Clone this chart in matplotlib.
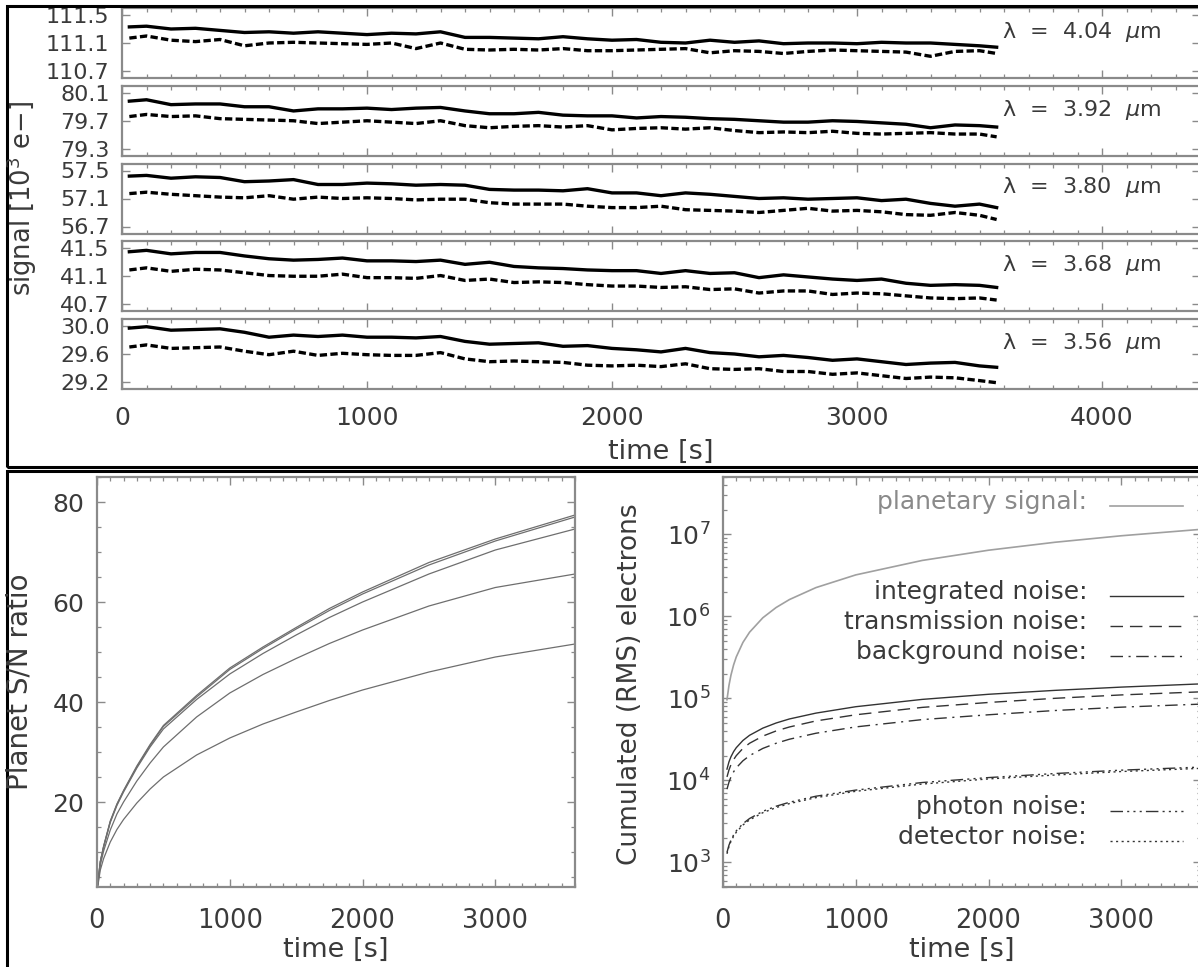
import numpy as np
import matplotlib
matplotlib.use("Agg")
import matplotlib.pyplot as plt
from matplotlib.lines import Line2D
from matplotlib.patches import Rectangle
from matplotlib.ticker import MultipleLocator, LogLocator, NullFormatter

# ---------------- data ----------------
# top: light curves (time in s) at five wavelengths, solid and dashed series
time_lc = [30, 100, 200, 300, 400, 500, 600, 700, 800, 900, 1000, 1100, 1200,
           1300, 1400, 1500, 1600, 1700, 1800, 1900, 2000, 2100, 2200, 2300,
           2400, 2500, 2600, 2700, 2800, 2900, 3000, 3100, 3200, 3300, 3400,
           3500, 3570]
wavelength_labels = ["4.04", "3.92", "3.80", "3.68", "3.56"]
ytick_values = [[111.5, 111.1, 110.7], [80.1, 79.7, 79.3], [57.5, 57.1, 56.7],
                [41.5, 41.1, 40.7], [30.0, 29.6, 29.2]]
ytick_labels = [["111.5", "111.1", "110.7"], ["80.1", "79.7", "79.3"],
                ["57.5", "57.1", "56.7"], ["41.5", "41.1", "40.7"],
                ["30.0", "29.6", "29.2"]]

lc404_solid = [111.33, 111.34, 111.30, 111.31, 111.28, 111.25, 111.26, 111.24, 111.26,
               111.24, 111.22, 111.24, 111.23, 111.26, 111.18, 111.18, 111.17, 111.16,
               111.19, 111.16, 111.14, 111.15, 111.11, 111.10, 111.14, 111.11, 111.13,
               111.09, 111.10, 111.10, 111.09, 111.11, 111.10, 111.10, 111.08, 111.06,
               111.04]
lc404_dashed = [111.17, 111.20, 111.14, 111.12, 111.15, 111.06, 111.10, 111.11, 111.10,
                111.09, 111.08, 111.10, 111.02, 111.10, 111.01, 111.00, 111.01, 111.00,
                111.02, 110.99, 110.99, 111.00, 111.01, 111.02, 110.96, 110.99, 110.98,
                110.95, 110.98, 111.00, 110.99, 110.98, 110.97, 110.91, 110.98, 110.99,
                110.95]
lc392_solid = [79.98, 80.00, 79.93, 79.94, 79.94, 79.90, 79.90, 79.84, 79.87, 79.87,
               79.88, 79.86, 79.88, 79.89, 79.84, 79.80, 79.80, 79.82, 79.78, 79.77,
               79.77, 79.74, 79.76, 79.75, 79.73, 79.72, 79.70, 79.68, 79.68, 79.70,
               79.69, 79.67, 79.65, 79.60, 79.64, 79.63, 79.61]
lc392_dashed = [79.76, 79.79, 79.76, 79.77, 79.73, 79.72, 79.71, 79.70, 79.66, 79.68,
                79.70, 79.68, 79.66, 79.70, 79.63, 79.60, 79.62, 79.63, 79.61, 79.63,
                79.57, 79.59, 79.60, 79.58, 79.60, 79.56, 79.53, 79.54, 79.53, 79.55,
                79.52, 79.51, 79.52, 79.53, 79.51, 79.51, 79.47]
lc380_solid = [57.42, 57.43, 57.39, 57.41, 57.40, 57.34, 57.35, 57.37, 57.30, 57.30,
               57.32, 57.31, 57.29, 57.30, 57.29, 57.23, 57.22, 57.22, 57.21, 57.24,
               57.18, 57.18, 57.14, 57.18, 57.16, 57.13, 57.10, 57.11, 57.09, 57.10,
               57.11, 57.07, 57.09, 57.03, 56.99, 57.02, 56.97]
lc380_dashed = [57.17, 57.19, 57.16, 57.14, 57.12, 57.11, 57.14, 57.09, 57.12, 57.10,
                57.11, 57.10, 57.08, 57.09, 57.09, 57.04, 57.02, 57.02, 57.02, 56.99,
                56.97, 56.97, 56.99, 56.94, 56.93, 56.92, 56.90, 56.93, 56.96, 56.92,
                56.93, 56.91, 56.87, 56.86, 56.90, 56.86, 56.80]
lc368_solid = [41.45, 41.47, 41.42, 41.44, 41.44, 41.39, 41.35, 41.33, 41.34, 41.36,
               41.32, 41.32, 41.31, 41.33, 41.27, 41.30, 41.24, 41.22, 41.21, 41.19,
               41.18, 41.18, 41.14, 41.18, 41.14, 41.15, 41.08, 41.12, 41.09, 41.06,
               41.04, 41.06, 41.00, 40.97, 40.98, 40.97, 40.94]
lc368_dashed = [41.19, 41.22, 41.17, 41.20, 41.19, 41.15, 41.11, 41.10, 41.10, 41.13,
                41.08, 41.08, 41.07, 41.11, 41.04, 41.06, 41.01, 41.02, 41.01, 40.98,
                40.96, 40.96, 40.94, 40.95, 40.91, 40.92, 40.86, 40.89, 40.89, 40.84,
                40.86, 40.85, 40.82, 40.79, 40.78, 40.79, 40.76]
lc356_solid = [29.97, 29.99, 29.94, 29.95, 29.96, 29.91, 29.84, 29.87, 29.85, 29.87,
               29.84, 29.84, 29.83, 29.85, 29.78, 29.74, 29.75, 29.76, 29.71, 29.72,
               29.68, 29.66, 29.63, 29.68, 29.62, 29.60, 29.56, 29.58, 29.55, 29.51,
               29.53, 29.49, 29.45, 29.47, 29.48, 29.43, 29.41]
lc356_dashed = [29.70, 29.73, 29.68, 29.69, 29.70, 29.64, 29.59, 29.64, 29.58, 29.61,
                29.59, 29.58, 29.58, 29.62, 29.53, 29.49, 29.50, 29.49, 29.48, 29.44,
                29.43, 29.44, 29.42, 29.46, 29.39, 29.38, 29.39, 29.35, 29.35, 29.31,
                29.33, 29.29, 29.25, 29.27, 29.26, 29.22, 29.19]
lc_solid = [lc404_solid, lc392_solid, lc380_solid, lc368_solid, lc356_solid]
lc_dashed = [lc404_dashed, lc392_dashed, lc380_dashed, lc368_dashed, lc356_dashed]

# bottom-left: planet S/N ratio
time_sn = [5, 25, 50, 100, 150, 200, 300, 400, 500, 750, 1000, 1250, 1500, 1750,
           2000, 2500, 3000, 3600]
sn_a = [3.5, 8.1, 11.2, 16.2, 19.6, 22.3, 27.2, 31.5, 35.3, 41.3, 46.8, 51.0, 54.9,
        58.7, 62.0, 67.9, 72.6, 77.4]
sn_b = [3.5, 8.1, 11.1, 16.1, 19.5, 22.2, 27.0, 31.3, 35.1, 41.0, 46.5, 50.7, 54.6,
        58.3, 61.6, 67.4, 72.2, 77.0]
sn_c = [3.5, 8.0, 11.0, 15.9, 19.3, 22.0, 26.8, 31.0, 34.6, 40.5, 45.6, 49.7, 53.4,
        56.9, 60.0, 65.6, 70.4, 74.6]
sn_d = [3.3, 7.4, 10.2, 14.4, 17.6, 20.0, 24.2, 27.8, 31.0, 37.0, 41.8, 45.5, 48.7,
        51.7, 54.4, 59.2, 62.9, 65.6]
sn_e = [3.0, 6.4, 8.7, 12.0, 14.5, 16.5, 19.8, 22.6, 25.0, 29.4, 32.8, 35.6, 38.0,
        40.3, 42.4, 46.0, 49.0, 51.6]
sn_series = [sn_a, sn_b, sn_c, sn_d, sn_e]

# bottom-right: cumulated electrons
time_noise = [30, 45, 60, 80, 100, 150, 200, 300, 400, 500, 700, 1000, 1500, 2000,
              2500, 3000, 3600]
planet_signal = [9.6e4, 1.44e5, 1.92e5, 2.56e5, 3.2e5, 4.8e5, 6.4e5, 9.6e5, 1.28e6,
                 1.6e6, 2.24e6, 3.2e6, 4.8e6, 6.4e6, 8.0e6, 9.6e6, 1.15e7]
integrated_noise = [1.37e4, 1.68e4, 1.94e4, 2.24e4, 2.5e4, 3.06e4, 3.54e4, 4.33e4,
                    5.0e4, 5.6e4, 6.6e4, 7.9e4, 9.7e4, 1.12e5, 1.25e5, 1.37e5, 1.5e5]
transmission_noise = [1.1e4, 1.34e4, 1.55e4, 1.79e4, 2.0e4, 2.45e4, 2.83e4, 3.46e4,
                      4.0e4, 4.47e4, 5.3e4, 6.3e4, 7.75e4, 8.9e4, 1.0e5, 1.1e5, 1.2e5]
background_noise = [7.8e3, 9.5e3, 1.1e4, 1.27e4, 1.42e4, 1.73e4, 2.0e4, 2.45e4,
                    2.83e4, 3.17e4, 3.75e4, 4.48e4, 5.5e4, 6.3e4, 7.1e4, 7.8e4, 8.5e4]
photon_noise = [1.32e3, 1.62e3, 1.87e3, 2.16e3, 2.42e3, 2.96e3, 3.42e3, 4.19e3,
                4.83e3, 5.4e3, 6.4e3, 7.6e3, 9.4e3, 1.08e4, 1.21e4, 1.33e4, 1.45e4]
detector_noise = [1.27e3, 1.56e3, 1.8e3, 2.08e3, 2.33e3, 2.85e3, 3.29e3, 4.03e3,
                  4.65e3, 5.2e3, 6.15e3, 7.35e3, 9.0e3, 1.04e4, 1.16e4, 1.28e4, 1.4e4]
legend_labels = ["planetary signal:", "integrated noise:", "transmission noise:",
                 "background noise:", "photon noise:", "detector noise:"]

# ---------------- figure ----------------
W, H = 1198, 967
fig = plt.figure(figsize=(W / 100, H / 100), dpi=100)
plt.rcParams['font.family'] = ['DejaVu Sans']
TXT = '#3a3a3a'
SPINE = '#8a8a8a'


def fx(px):
    return px / W


def fy(py):
    return 1 - py / H


def rect(l, t, r, b):
    return [fx(l), fy(b), fx(r) - fx(l), fy(t) - fy(b)]


def style_axes(ax, xsize, ysize, pad_x, pad_y):
    for s in ax.spines.values():
        s.set_color(SPINE)
        s.set_linewidth(1.6)
    ax.tick_params(which='both', direction='in', top=True, right=True,
                   color=SPINE, labelcolor=TXT)
    ax.tick_params(which='major', length=6, width=1.0)
    ax.tick_params(which='minor', length=3, width=0.9)
    ax.tick_params(axis='x', labelsize=xsize, pad=pad_x)
    ax.tick_params(axis='y', labelsize=ysize, pad=pad_y)


# frames
fig.add_artist(Rectangle((fx(7), fy(467)), fx(1210) - fx(7), fy(6) - fy(467),
                         fill=False, lw=2.2, ec='black', transform=fig.transFigure))
fig.add_artist(Rectangle((fx(7), fy(980)), fx(1210) - fx(7), fy(471) - fy(980),
                         fill=False, lw=2.2, ec='black', transform=fig.transFigure))

# top light-curve panels
pitch = 77.75
for i in range(5):
    top = 8 + i * pitch
    ax = fig.add_axes(rect(122, top, 1200, top + 70))
    ax.plot(time_lc, lc_solid[i], color='black', lw=2.4, solid_joinstyle='round')
    ax.plot(time_lc, lc_dashed[i], color='black', lw=2.4, ls=(0, (2.2, 1.0)))
    ax.set_xlim(0, 4400)
    yt = ytick_values[i]
    ax.set_ylim(min(yt) - 0.1, max(yt) + 0.1)
    ax.set_yticks(yt, ytick_labels[i])
    ax.xaxis.set_major_locator(MultipleLocator(1000))
    ax.xaxis.set_minor_locator(MultipleLocator(100))
    style_axes(ax, 18, 16, 12, 9)
    if i < 4:
        ax.tick_params(axis='x', labelbottom=False)
    ax.text(3590, 0.66, "λ  =  " + wavelength_labels[i] + "  $\\mu$m",
            transform=ax.get_xaxis_transform(), ha='left', va='center',
            fontsize=16, color=TXT)

fig.text(fx(22), fy(198), "signal [10$^{3}$ e$-$]", rotation=90, ha='center',
         va='center', fontsize=18.5, color=TXT)
fig.text(fx(661), fy(452), "time [s]", ha='center', va='center', fontsize=19.5,
         color=TXT)

# bottom-left: S/N ratio
axl = fig.add_axes(rect(97, 477, 575, 887))
for s in sn_series:
    axl.plot(time_sn, s, color='#6e6e6e', lw=0.9)
axl.set_xlim(0, 3600)
axl.set_ylim(3, 85)
axl.xaxis.set_major_locator(MultipleLocator(1000))
axl.xaxis.set_minor_locator(MultipleLocator(100))
axl.yaxis.set_major_locator(MultipleLocator(20))
axl.yaxis.set_minor_locator(MultipleLocator(5))
style_axes(axl, 18.5, 18, 15, 9)
fig.text(fx(20), fy(682), "Planet S/N ratio", rotation=90, ha='center', va='center',
         fontsize=20, color=TXT)
fig.text(fx(336), fy(950), "time [s]", ha='center', va='center', fontsize=19.5,
         color=TXT)

# bottom-right: cumulated electrons
axr = fig.add_axes(rect(723, 477, 1201, 887))
styles = [dict(color='#a0a0a0', lw=1.2, ls='-'),
          dict(color='#333333', lw=1.0, ls='-'),
          dict(color='#333333', lw=1.0, ls=(0, (9, 5))),
          dict(color='#333333', lw=1.0, ls=(0, (9, 4, 1.5, 4))),
          dict(color='#333333', lw=1.0, ls=(0, (9, 3, 1.5, 3, 1.5, 3, 1.5, 3))),
          dict(color='#333333', lw=1.0, ls=(0, (1.5, 2.5)))]
series_r = [planet_signal, integrated_noise, transmission_noise, background_noise,
            photon_noise, detector_noise]
for s, st in zip(series_r, styles):
    axr.plot(time_noise, s, **st)
axr.set_yscale('log')
axr.set_xlim(0, 3600)
axr.set_ylim(5e2, 5e7)
axr.xaxis.set_major_locator(MultipleLocator(1000))
axr.xaxis.set_minor_locator(MultipleLocator(100))
axr.yaxis.set_major_locator(LogLocator(base=10, numticks=10))
axr.yaxis.set_minor_locator(LogLocator(base=10, subs=np.arange(2, 10), numticks=100))
axr.yaxis.set_minor_formatter(NullFormatter())
style_axes(axr, 18.5, 18, 15, 9)
fig.text(fx(630), fy(684), "Cumulated (RMS) electrons", rotation=90, ha='center',
         va='center', fontsize=19, color=TXT)
fig.text(fx(962), fy(950), "time [s]", ha='center', va='center', fontsize=19.5,
         color=TXT)

# legend (manual, as in the original)
leg_y = [502, 592, 622, 652, 807, 837]
for lab, yy, st in zip(legend_labels, leg_y, styles):
    col = '#8a8a8a' if st['color'] == '#a0a0a0' else TXT
    fig.text(fx(1087), fy(yy), lab, ha='right', va='center', fontsize=18, color=col)
    fig.add_artist(Line2D([fx(1110), fx(1183)], [fy(yy + 4), fy(yy + 4)],
                          transform=fig.transFigure, **st))

fig.savefig("out.png", dpi=100)
